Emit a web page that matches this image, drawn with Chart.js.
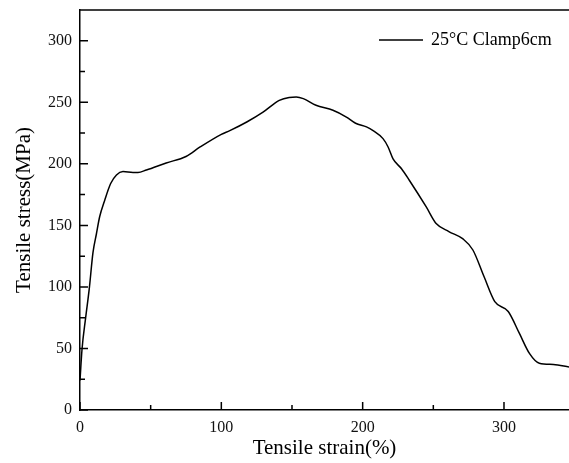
<!DOCTYPE html>
<html>
<head>
<meta charset="utf-8">
<script src="https://cdn.jsdelivr.net/npm/chart.js@4/dist/chart.umd.min.js"></script>
<style>
  html, body { margin: 0; padding: 0; background: #fff; }
  #wrap { width: 569px; height: 463px; }
</style>
</head>
<body>
<div id="wrap"><canvas id="stressChart"></canvas></div>
<script>
// tensile test curve, 25°C, clamp length 6 cm
const strain = [0, 1.4, 4, 6.5, 9.2, 11.6, 13.9, 17.5, 21.7, 25.8, 30.4, 37.5, 41, 47, 61, 75, 85, 100, 106, 118, 129.5, 141, 148, 153, 158, 167, 179, 188.5, 195, 202.7, 207.4, 214.4, 218, 221.5, 227.5, 233, 245, 252, 261, 271, 278, 286, 293.5, 303, 311, 318, 325, 335, 346];
const stress = [24, 49, 75, 98, 128, 143, 157, 170.5, 184, 191, 193.7, 193, 193, 195, 200.7, 206, 213.7, 224, 227, 234, 242, 251.6, 254, 254.3, 253, 247.6, 243.5, 238, 233, 230, 227, 220.5, 213.7, 204, 196, 186.7, 165, 151.5, 145, 139, 130, 108, 88, 80, 62, 46, 38, 37, 35];

const xTicks = [0, 100, 200, 300];
const xMinor = [50, 150, 250];
const yTicks = [0, 50, 100, 150, 200, 250, 300];
const yMinor = [25, 75, 125, 175, 225, 275];

const FONT = "'Liberation Serif', 'Times New Roman', serif";

// inward tick marks, top frame line and the in-plot legend
const framePlugin = {
    id: 'frame',
    afterDraw(chart) {
        const ctx = chart.ctx;
        const a = chart.chartArea;
        const xs = chart.scales.x, ys = chart.scales.y;
        ctx.save();
        ctx.strokeStyle = '#000';
        ctx.lineWidth = 1.5;
        ctx.beginPath();
        ctx.moveTo(a.left, a.top);
        ctx.lineTo(a.right, a.top);
        xTicks.forEach(v => { const p = xs.getPixelForValue(v); ctx.moveTo(p, a.bottom); ctx.lineTo(p, a.bottom - 8); });
        xMinor.forEach(v => { const p = xs.getPixelForValue(v); ctx.moveTo(p, a.bottom); ctx.lineTo(p, a.bottom - 5); });
        yTicks.forEach(v => { const p = ys.getPixelForValue(v); ctx.moveTo(a.left, p); ctx.lineTo(a.left + 8, p); });
        yMinor.forEach(v => { const p = ys.getPixelForValue(v); ctx.moveTo(a.left, p); ctx.lineTo(a.left + 5, p); });
        ctx.stroke();

        // legend
        const ly = a.top + 30;
        const lx = a.right - 190;
        ctx.lineWidth = 1.3;
        ctx.beginPath();
        ctx.moveTo(lx, ly);
        ctx.lineTo(lx + 44, ly);
        ctx.stroke();
        ctx.fillStyle = '#000';
        ctx.font = '18px ' + FONT;
        ctx.textBaseline = 'middle';
        ctx.fillText(chart.data.datasets[0].label, lx + 52, ly);
        ctx.restore();
    }
};

new Chart(document.getElementById('stressChart'), {
    type: 'scatter',
    data: {
        datasets: [{
            label: '25°C Clamp6cm',
            data: strain.map((s, i) => ({ x: s, y: stress[i] })),
            showLine: true,
            borderColor: '#000',
            borderWidth: 1.5,
            pointRadius: 0,
            cubicInterpolationMode: 'monotone',
            clip: false
        }]
    },
    options: {
        responsive: true,
        maintainAspectRatio: false,
        animation: false,
        layout: { padding: { top: 10, right: 0, left: 0, bottom: 0 } },
        plugins: {
            legend: { display: false },
            tooltip: { enabled: false }
        },
        scales: {
            x: {
                type: 'linear',
                min: 0,
                max: 346,
                afterBuildTicks: s => { s.ticks = xTicks.map(v => ({ value: v })); },
                afterFit: s => { s.height = 53; s.paddingLeft = 0; s.paddingRight = 0; },
                grid: { display: false, drawTicks: false },
                border: { color: '#000', width: 1.5 },
                ticks: { color: '#111', font: { family: FONT, size: 16 }, padding: 8, maxRotation: 0 },
                title: { display: true, text: 'Tensile strain(%)', color: '#000', font: { family: FONT, size: 21 }, padding: { top: 0, bottom: 2 } }
            },
            y: {
                min: 0,
                max: 325,
                afterBuildTicks: s => { s.ticks = yTicks.map(v => ({ value: v })); },
                afterFit: s => { s.width = 80; s.paddingTop = 0; s.paddingBottom = 0; },
                grid: { display: false, drawTicks: false },
                border: { color: '#000', width: 1.5 },
                ticks: { color: '#111', font: { family: FONT, size: 16 }, padding: 8 },
                title: { display: true, text: 'Tensile stress(MPa)', color: '#000', font: { family: FONT, size: 21 }, padding: { top: 12, bottom: 0 } }
            }
        }
    },
    plugins: [framePlugin]
});
</script>
</body>
</html>
